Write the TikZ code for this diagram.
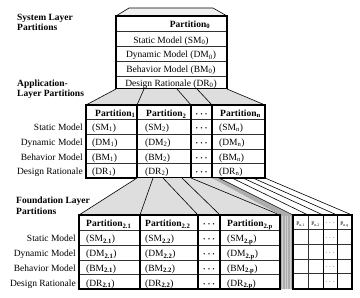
\documentclass[tikz,border=0pt]{standalone}
\usepackage{fontspec}
\setmainfont{Liberation Serif}
\newcommand{\sbs}[1]{\textsubscript{\textbf{#1}}}
\newcommand{\mydots}{{\boldmath$\cdots$}}
\begin{document}
\fontsize{9.5}{11}\selectfont
\begin{tikzpicture}[x=1pt,y=-1pt,
  frame/.style={line width=1.6pt},
  rowline/.style={line width=0.6pt,black!80},
  link/.style={line width=0.6pt},
  shade/.style={fill=black!13},
  bandfill/.style={fill=black!32},
  txt/.style={inner sep=0pt,anchor=base west},
  rlbl/.style={inner sep=0pt,anchor=base east},
  ctr/.style={inner sep=0pt,anchor=base},
  layer/.style={inner sep=0pt,anchor=base west,font=\bfseries},
  hdr/.style={inner sep=0pt,anchor=base west,font=\bfseries},
  tinytxt/.style={inner sep=0pt,anchor=base,font=\fontsize{5.5}{6}\selectfont},
  smalldots/.style={inner sep=0pt,anchor=base,font=\fontsize{7.5}{8}\selectfont}]

\useasboundingbox (0,0) rectangle (360,298);
\fill[white] (0,0) rectangle (360,298);

% ---------- system layer ----------
\draw[link,fill=black!6] (129,8) -- (213,8) -- (227,16) -- (116,16) -- cycle;
\foreach \y in {31.7,46.7,61.7,76} \draw[rowline] (116,\y) -- (227,\y);
\draw[frame] (116,16) rectangle (227,89);
\node[hdr,anchor=base] (p0) at (190,27.3) {Partition\sbs{0}};
\node[ctr] (sm0) at (171,43.3) {Static Model (SM\textsubscript{0})};
\node[ctr] (dm0) at (171,57.7) {Dynamic Model (DM\textsubscript{0})};
\node[ctr] (bm0) at (171,72.5) {Behavior Model (BM\textsubscript{0})};
\node[ctr] (dr0) at (171,86) {Design Rationale (DR\textsubscript{0})};

% ---------- system -> application ----------
\fill[shade] (116,89) -- (227,89) -- (265,105) -- (86,105) -- cycle;
\draw[link] (116,89) -- (86,105);
\draw[link] (144,89) -- (137,105);
\draw[link] (177,89) -- (191,105);
\draw[link] (197,89) -- (212,105);
\draw[link] (227,89) -- (265,105);

% ---------- application layer ----------
\foreach \y in {119,134,149,163} \draw[rowline] (86,\y) -- (265,\y);
\foreach \a/\b in {86/137,137/191,191/212,212/265} \draw[frame] (\a,105) rectangle (\b,178);

\node[hdr] (p1) at (95,116.7) {Partition\sbs{1}};
\node[hdr] (p2) at (146,116.7) {Partition\sbs{2}};
\node[ctr] (pd) at (201.5,116.7) {\mydots};
\node[hdr] (pn) at (220,116.7) {Partition\sbs{n}};

\node[rlbl] (la1) at (83,130) {Static Model};
\node[rlbl] (la2) at (83,145) {Dynamic Model};
\node[rlbl] (la3) at (83,160) {Behavior Model};
\node[rlbl] (la4) at (83,174) {Design Rationale};

\foreach \n/\yy [count=\k] in {SM/130,DM/145,BM/160,DR/174}{
  \node[txt] (a1\k) at (92,\yy) {(\n\textsubscript{1})};
  \node[txt] (a2\k) at (145,\yy) {(\n\textsubscript{2})};
  \node[ctr] (ad\k) at (201.5,\yy) {\mydots};
  \node[txt] (an\k) at (219,\yy) {(\n\textsubscript{n})};
}

% ---------- application -> foundation ----------
\fill[shade] (137,178) -- (212,178) -- (280,215) -- (79,215) -- cycle;
\draw[link] (137,178) -- (79,215);
\draw[link] (153,178) -- (140,215);
\draw[link] (163,178) -- (198,215);
\draw[link] (182,178) -- (220,215);
\draw[link] (191,178) -- (280,215);
\fill[bandfill] (212,178) -- (219,178) -- (292,215) -- (292,289) -- (280,289) -- (280,215) -- cycle;
\foreach \x in {282.5,285,287.5,290} \draw[black!18,line width=0.4pt] (\x,216) -- (\x,289);
\draw[link] (219,178) -- (293,215);
\draw[link] (232,178) -- (308,215);
\draw[link] (243,178) -- (323,215);
\draw[link] (253,178) -- (337,215);
\draw[link] (265,178) -- (352,215);

% ---------- foundation layer ----------
\foreach \y in {230,245,260,274} \draw[rowline] (79,\y) -- (280,\y);
\foreach \a/\b in {79/140,140/198,198/220,220/280} \draw[frame] (\a,215) rectangle (\b,289);

\node[hdr] (f1) at (86,226.7) {Partition\sbs{2.1}};
\node[hdr] (f2) at (145,226.7) {Partition\sbs{2.2}};
\node[ctr] (fd) at (209,226.7) {\mydots};
\node[hdr] (fp) at (227,226.7) {Partition\sbs{2.p}};

\node[rlbl] (lf1) at (76,241.7) {Static Model};
\node[rlbl] (lf2) at (76,256.7) {Dynamic Model};
\node[rlbl] (lf3) at (76,271) {Behavior Model};
\node[rlbl] (lf4) at (76,286) {Design Rationale};

\foreach \n/\yy [count=\k] in {SM/241.7,DM/256.7,BM/271,DR/286}{
  \node[txt] (b1\k) at (86,\yy) {(\n\sbs{2.1})};
  \node[txt] (b2\k) at (145,\yy) {(\n\sbs{2.2})};
  \node[ctr] (bd\k) at (209,\yy) {\mydots};
  \node[txt] (bp\k) at (227,\yy) {(\n\sbs{2.p})};
}

% ---------- partition n foundation (small) ----------
\foreach \y in {229,244,259,273} \draw[rowline] (293,\y) -- (352,\y);
\foreach \x in {308} \draw[rowline] (\x,215) -- (\x,289);
\foreach \x in {323,337} \draw[line width=0.9pt] (\x,215) -- (\x,289);
\draw[frame] (293,215) rectangle (352,289);
\node[tinytxt] (q1) at (300.5,225) {P\textsubscript{n.1}};
\node[tinytxt] (q2) at (315.5,225) {P\textsubscript{n.2}};
\node[smalldots] (qd) at (330,224.5) {$\cdots$};
\node[tinytxt] (qn) at (344.5,225) {P\textsubscript{n.q}};
\foreach \yy [count=\k] in {239,254,268,283}
  \node[smalldots] (qd\k) at (330,\yy) {$\cdots$};

% ---------- layer labels ----------
\node[layer] (sys1) at (17,20) {System Layer};
\node[layer] (sys2) at (17,30.7) {Partitions};
\node[layer] (app1) at (17,86) {Application-};
\node[layer] (app2) at (17,96.7) {Layer Partitions};
\node[layer] (fnd1) at (16,203) {Foundation Layer};
\node[layer] (fnd2) at (16,214.3) {Partitions};
\end{tikzpicture}
\end{document}
